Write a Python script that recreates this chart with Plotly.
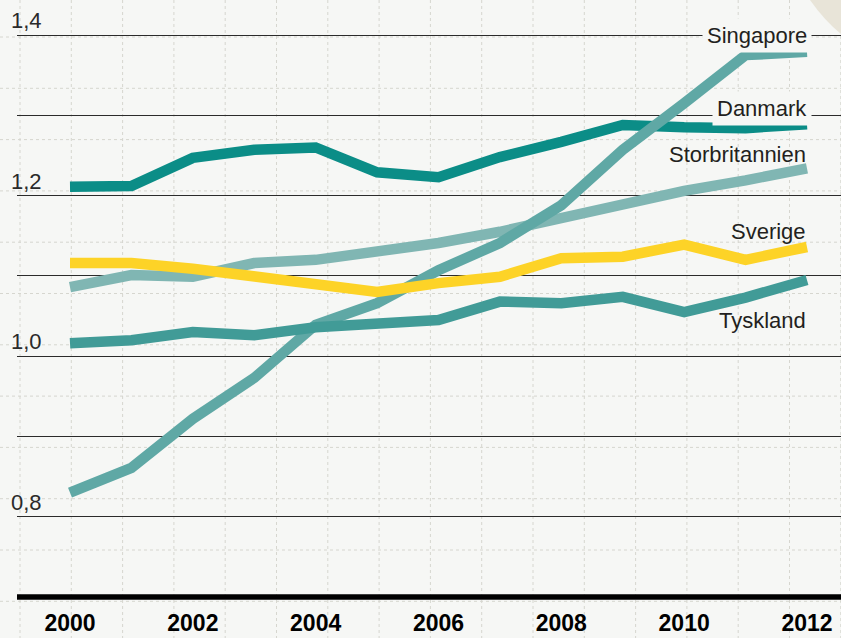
import plotly.graph_objects as go

years = list(range(2000, 2013))

danmark = [1.211, 1.212, 1.247, 1.257, 1.260, 1.229, 1.223, 1.248, 1.267, 1.288, 1.285, 1.284, 1.289]
storbritannien = [1.086, 1.101, 1.099, 1.116, 1.120, 1.130, 1.141, 1.155, 1.172, 1.192, 1.206, 1.219, 1.234]
singapore = [0.830, 0.861, 0.922, 0.973, 1.039, 1.066, 1.107, 1.141, 1.188, 1.257, 1.315, 1.375, 1.379]
tyskland = [1.016, 1.020, 1.030, 1.026, 1.036, 1.041, 1.045, 1.068, 1.066, 1.074, 1.055, 1.073, 1.095]
sverige = [1.116, 1.116, 1.109, 1.099, 1.089, 1.080, 1.091, 1.099, 1.122, 1.124, 1.139, 1.120, 1.136]

series_names = ["Danmark", "Storbritannien", "Singapore", "Tyskland", "Sverige"]
series_values = [danmark, storbritannien, singapore, tyskland, sverige]
series_colors = ["#0b8d87", "#80b6b3", "#5fa8a5", "#419b97", "#fdd327"]

x_tick_vals = [2000, 2002, 2004, 2006, 2008, 2010, 2012]
x_tick_text = ["2000", "2002", "2004", "2006", "2008", "2010", "2012"]
y_tick_vals = [0.8, 1.0, 1.2, 1.4]
y_tick_text = ["0,8", "1,0", "1,2", "1,4"]

# label placement (layout, not data)
label_y = {"Singapore": 1.400, "Danmark": 1.309, "Storbritannien": 1.2506,
           "Sverige": 1.1547, "Tyskland": 1.045}
label_bg = {"Singapore": True, "Danmark": True}

W, H = 841, 638
ML, MR, MT, MB = 17, 0, 0, 38
PAPER = "#f6f7f5"

fig = go.Figure()
for name, vals, col in zip(series_names, series_values, series_colors):
    fig.add_trace(go.Scatter(x=years, y=vals, mode="lines", name=name,
                             line=dict(color=col, width=10.5),
                             hoverinfo="skip"))

shapes = []
# grid-paper dotted lines (decoration, figure pixel based)
pw, ph = W - ML - MR, H - MT - MB
def px_to_paper_x(px):
    return (px - ML) / pw
def py_to_paper_y(py):
    return 1 - (py - MT) / ph
k = 0
while 20 + 51.3 * k < W + 2:
    xp = px_to_paper_x(20 + 51.3 * k)
    shapes.append(dict(type="line", xref="paper", yref="paper", x0=xp, x1=xp,
                       y0=py_to_paper_y(0), y1=py_to_paper_y(H), layer="below",
                       line=dict(color="#d6d6cf", width=1, dash="dot")))
    k += 1
k = 0
while 37 + 51.3 * k < H + 2:
    yp = py_to_paper_y(37 + 51.3 * k)
    shapes.append(dict(type="line", xref="paper", yref="paper", x0=px_to_paper_x(0),
                       x1=px_to_paper_x(W), y0=yp, y1=yp, layer="below",
                       line=dict(color="#d6d6cf", width=1, dash="dot")))
    k += 1

# thick baseline
shapes.append(dict(type="line", xref="paper", yref="y", x0=0, x1=1, y0=0.7, y1=0.7,
                   line=dict(color="#000000", width=5.5)))

# paper curl at top-right corner
shapes.append(dict(type="path", xref="paper", yref="paper", layer="below",
                   path=f"M {px_to_paper_x(810)},{py_to_paper_y(0)} "
                        f"Q {px_to_paper_x(824)},{py_to_paper_y(20)} {px_to_paper_x(841)},{py_to_paper_y(34)} "
                        f"L {px_to_paper_x(841)},{py_to_paper_y(0)} Z",
                   fillcolor="#e8e4d8", line=dict(width=0)))

annotations = []
for v, t in zip(y_tick_vals, y_tick_text):
    annotations.append(dict(x=0, xref="paper", y=v, yref="y", text=t, showarrow=False,
                            xanchor="left", yanchor="bottom", xshift=-8, yshift=0,
                            font=dict(family="Liberation Sans", size=22, color="#2a2a2a")))
for name in series_names:
    bg = label_bg.get(name, False)
    annotations.append(dict(x=2012, xref="x", y=label_y[name], yref="y", text=name,
                            showarrow=False, xanchor="right", yanchor="middle",
                            xshift=5 if bg else 0,
                            bgcolor=PAPER if bg else None, borderpad=4 if bg else 0,
                            font=dict(family="Liberation Sans", size=22, color="#231f20")))

fig.update_layout(
    width=W, height=H,
    margin=dict(l=ML, r=MR, t=MT, b=MB),
    paper_bgcolor=PAPER, plot_bgcolor="rgba(0,0,0,0)",
    showlegend=False,
    shapes=shapes,
    annotations=annotations,
    xaxis=dict(range=[1999.137, 2012.554], tickvals=x_tick_vals, ticktext=x_tick_text,
               showgrid=False, zeroline=False, showline=False, ticks="",
               automargin=False,
               tickfont=dict(family="Liberation Sans", size=23, color="#000000", weight="bold"),
               ticklabelstandoff=7),
    yaxis=dict(range=[0.6964, 1.4436], tick0=0.7, dtick=0.1, showticklabels=False,
               showgrid=True, gridcolor="#2b2b2b", gridwidth=1, zeroline=False,
               showline=False, ticks="", automargin=False),
)

fig.write_html("out.html", config={"displayModeBar": False},
               post_script="document.body.style.margin='0';document.body.style.overflow='hidden';")
